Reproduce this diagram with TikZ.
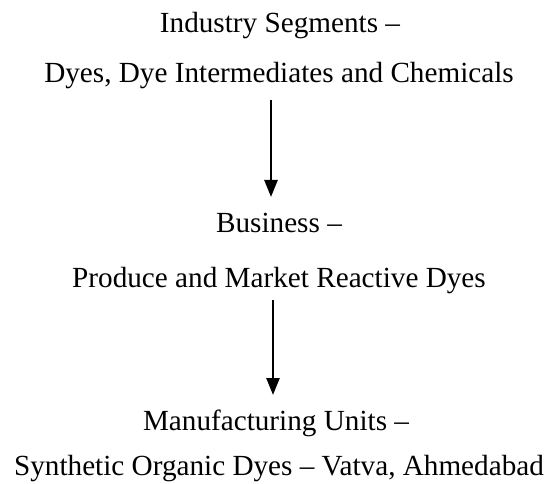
\documentclass[tikz,border=0pt]{standalone}
\usepackage{fontspec}
\setmainfont{Liberation Serif}
\usetikzlibrary{arrows.meta}
\begin{document}
\begin{tikzpicture}[x=1pt,y=-1pt,
  txt/.style={anchor=base, inner sep=0pt, font=\fontsize{29.2}{34}\selectfont},
  arr/.style={line width=2.5pt, -{Triangle[length=17pt,width=13pt]}}]
\useasboundingbox (0,0) rectangle (549,484);
\node[txt] (l1) at (280,33) {Industry Segments –};
\node[txt] (l2) at (279,83) {Dyes, Dye Intermediates and Chemicals};
\node[txt] (l3) at (279,232) {Business –};
\node[txt] (l4) at (279,287) {Produce and Market Reactive Dyes};
\node[txt] (l5) at (276,430) {Manufacturing Units –};
\node[txt] (l6) at (279,475) {Synthetic Organic Dyes – Vatva, Ahmedabad};
\coordinate (a1s) at (271,100);
\coordinate (a1e) at (271,197);
\coordinate (a2s) at (273,300);
\coordinate (a2e) at (273,395);
\draw[arr] (a1s) -- (a1e);
\draw[arr] (a2s) -- (a2e);
\end{tikzpicture}
\end{document}
